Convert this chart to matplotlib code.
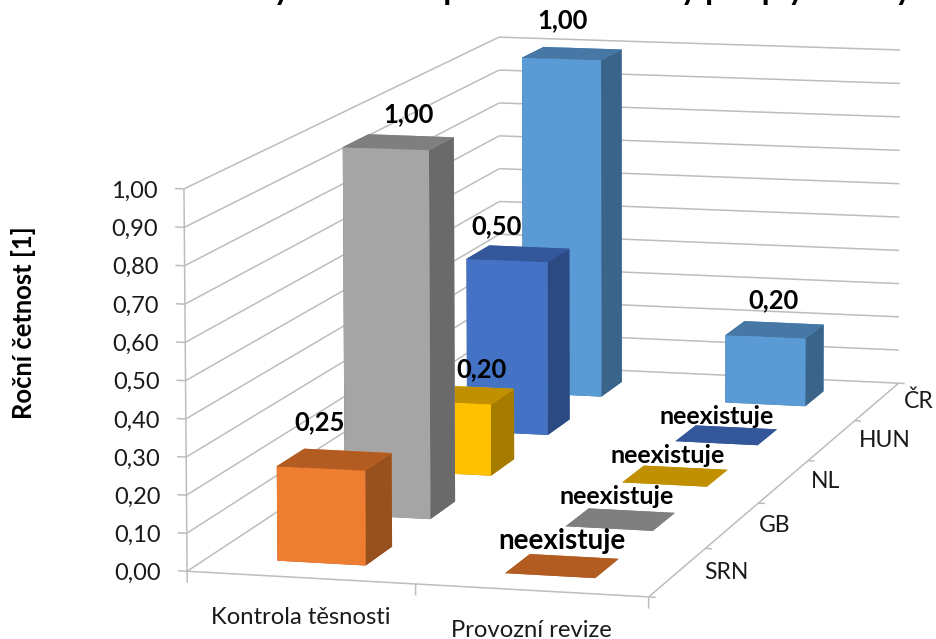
import numpy as np
import matplotlib
matplotlib.use("Agg")
import matplotlib.pyplot as plt
from matplotlib.transforms import offset_copy
from mpl_toolkits.mplot3d import proj3d
from mpl_toolkits.mplot3d.art3d import Line3DCollection

plt.rcParams['font.family'] = ['Lato', 'DejaVu Sans']

# ---- data ----
groups = ["Kontrola těsnosti", "Provozní revize"]
countries = ["SRN", "GB", "NL", "HUN", "ČR"]
kontrola = [0.25, 1.00, 0.20, 0.50, 1.00]
revize = [None, None, None, None, 0.20]
z_ticks = [0.0, 0.1, 0.2, 0.3, 0.4, 0.5, 0.6, 0.7, 0.8, 0.9, 1.0]
title = "Četnost kontroly těsnosti a provozní kontroly pro plynovody"
y_title = "Roční četnost [1]"

# ---- style ----
front = ["#ED7D31", "#A5A5A5", "#FFC000", "#4472C4", "#5B9BD5"]
top = ["#B35C22", "#7F7F7F", "#C09000", "#34569A", "#4677A5"]
side = ["#97501E", "#6A6A6A", "#A67C00", "#2C4A82", "#3B648B"]
grid_c = "#BDBDBD"
bar_w = 0.39
bar_d = 0.40
W, H = 936, 639

# label offsets in pixels from the top-face centre
off_k = [(-15, 37), (10, 28), (20, 26), (-22, 28), (-10, 33)]
off_r = [(0, 25), (-4, 23), (-8, 21), (-10, 19), (-1, 30)]
size_r = [20, 18, 18, 18, 18]

fig = plt.figure(figsize=(W / 100, H / 100), dpi=100)
ax = fig.add_axes([0, -(W - H) / 2 / H, 1, W / H], projection='3d', computed_zorder=False)
ax.set_axis_off()
ax.apply_aspect()

# camera: weighted fit of the chart box (x 0-2, y 0-5, z 0-1) to the picture
box = np.array([(0, 0, 0), (1, 0, 0), (2, 0, 0), (2, 1, 0), (2, 2, 0), (2, 3, 0), (2, 4, 0), (2, 5, 0),
                (0, 5, 0), (0, 0, 1), (0, 5, 1), (2, 5, 1), (0, 0, .5)], float)
pix = np.array([(187, 571), (415, 586), (648, 597), (708, 548), (762, 503), (811, 461), (857, 420), (898, 383),
                (501, 369), (184, 189), (499, 37), (900, 50), (186, 380)], float)
weight = [4, 1, 3, 1, 1, 1, 1, 3, 1, 5, 5, 5, 1]
view = ax.transData.inverted().transform(np.c_[pix[:, 0], H - pix[:, 1]])
A, b = [], []
for (X, Y, Z), (u, v), k in zip(box, view, weight):
    A.append([k * c for c in [X, Y, Z, 1, 0, 0, 0, 0, -u * X, -u * Y, -u * Z]]); b.append(k * u)
    A.append([k * c for c in [0, 0, 0, 0, X, Y, Z, 1, -v * X, -v * Y, -v * Z]]); b.append(k * v)
p = np.linalg.lstsq(np.array(A), np.array(b), rcond=None)[0]
M = np.array([[p[0], p[1], p[2], p[3]],
              [p[4], p[5], p[6], p[7]],
              [-0.1, 0.2, -0.3, 1.0],
              [p[8], p[9], p[10], 1.0]])
ax.get_proj = lambda: M
ax.M = M


def label(x, y, z, s, dx=0, dy=0, **kw):
    px, py, _ = proj3d.proj_transform(x, y, z, M)
    ax.text2D(float(px), float(py), s, zorder=30,
              transform=offset_copy(ax.transData, fig=fig, x=dx, y=dy, units='dots'), **kw)


nx, ny = len(groups), len(countries)

# walls and floor
segments = []
for z in z_ticks:
    segments += [[(0, 0, z), (0, ny, z)], [(0, ny, z), (nx, ny, z)], [(-0.04, 0, z), (0, 0, z)]]
    label(0, 0, z, f"{z:.2f}".replace(".", ","), dx=-26, ha='right', va='center_baseline', fontsize=17, color='#1a1a1a')
segments += [[(0, 0, 0), (0, 0, 1)], [(0, 0, 0), (nx, 0, 0)], [(nx, 0, 0), (nx, ny, 0)]]
for i in range(nx + 1):
    segments.append([(i, 0, 0), (i, 0, -0.03)])
for j in range(ny + 1):
    segments.append([(nx, j, 0), (nx + 0.03, j, 0)])
frame = Line3DCollection(segments, colors=grid_c, linewidths=1.1, zorder=1)
ax.add_collection3d(frame, autolim=False)

for i, g in enumerate(groups):
    label(i + .5, 0, 0, g, dy=-40, ha='center', va='center', fontsize=17.2, color='#1a1a1a')
for j, c in enumerate(countries):
    label(nx, j + .5, 0, c, dx=27, ha='left', va='center', fontsize=16.5, color='#1a1a1a')

# bars, back to front
for j in range(ny - 1, -1, -1):
    for i, values in enumerate([kontrola, revize]):
        v = values[j]
        h = 0.0 if v is None else v
        cx, cy = i + .5, j + .5
        face = [top[j], top[j], front[j], front[j], side[j], side[j]]
        ax.bar3d(cx - bar_w / 2, cy - bar_d / 2, 0, bar_w, bar_d, h, color=face, shade=False,
                 edgecolor='none', linewidth=0, zorder=10 + (ny - j) * 2 + i)
        text = "neexistuje" if v is None else f"{v:.2f}".replace(".", ",")
        dx, dy = (off_k if i == 0 else off_r)[j]
        size = 18.4 if v is not None else size_r[j]
        label(cx, cy, h, text, dx=dx, dy=dy, ha='center', va='center', fontsize=size,
              fontweight='bold', color='black')

fig.text(24 / W, 1 - 323 / H, y_title, rotation=90, ha='center', va='center', fontsize=18.4, fontweight='bold')
fig.text(912 / W, 1.0, title, ha='right', va='baseline', fontsize=23, fontweight='bold')

fig.savefig("out.png", dpi=100)
